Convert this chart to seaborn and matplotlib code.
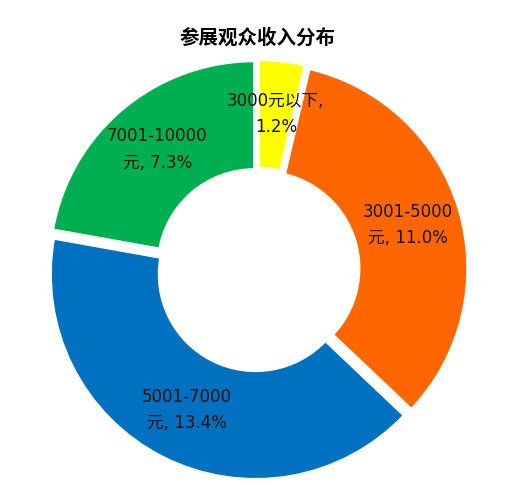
import matplotlib
matplotlib.use("Agg")
import matplotlib.pyplot as plt
import seaborn as sns

sns.set_theme(style="white")
plt.rcParams['font.family'] = ['DejaVu Sans', 'Noto Sans CJK SC']

categories = ["3000元以下", "3001-5000元", "5001-7000元", "7001-10000元"]
values = [1.2, 11.0, 13.4, 7.3]
labels = ["3000元以下,\n1.2%", "3001-5000\n元, 11.0%", "5001-7000\n元, 13.4%", "7001-10000\n元, 7.3%"]
colors = ["#FFFF00", "#FF6600", "#0070C0", "#00B050"]

fig = plt.figure(figsize=(5.05, 4.87), dpi=100)
ax = fig.add_axes([0.064, -0.017, 0.893, 0.926])
wedges, texts = ax.pie(values, colors=colors, startangle=90, counterclock=False,
                       labels=labels, labeldistance=0.74,
                       explode=[0.025] * 4,
                       wedgeprops=dict(width=0.53, edgecolor="white", linewidth=2),
                       textprops=dict(fontsize=12, ha="center", va="center",
                                      color="#111111", linespacing=1.6))
ax.set_xlim(-1.1, 1.1)
ax.set_ylim(-1.1, 1.1)
ax.set_aspect("equal")
fig.text(0.51, 0.922, "参展观众收入分布", fontsize=14, fontweight="bold",
         family=['Noto Sans CJK SC'], ha="center", va="center", color="black")
plt.savefig("out.png", dpi=100)
